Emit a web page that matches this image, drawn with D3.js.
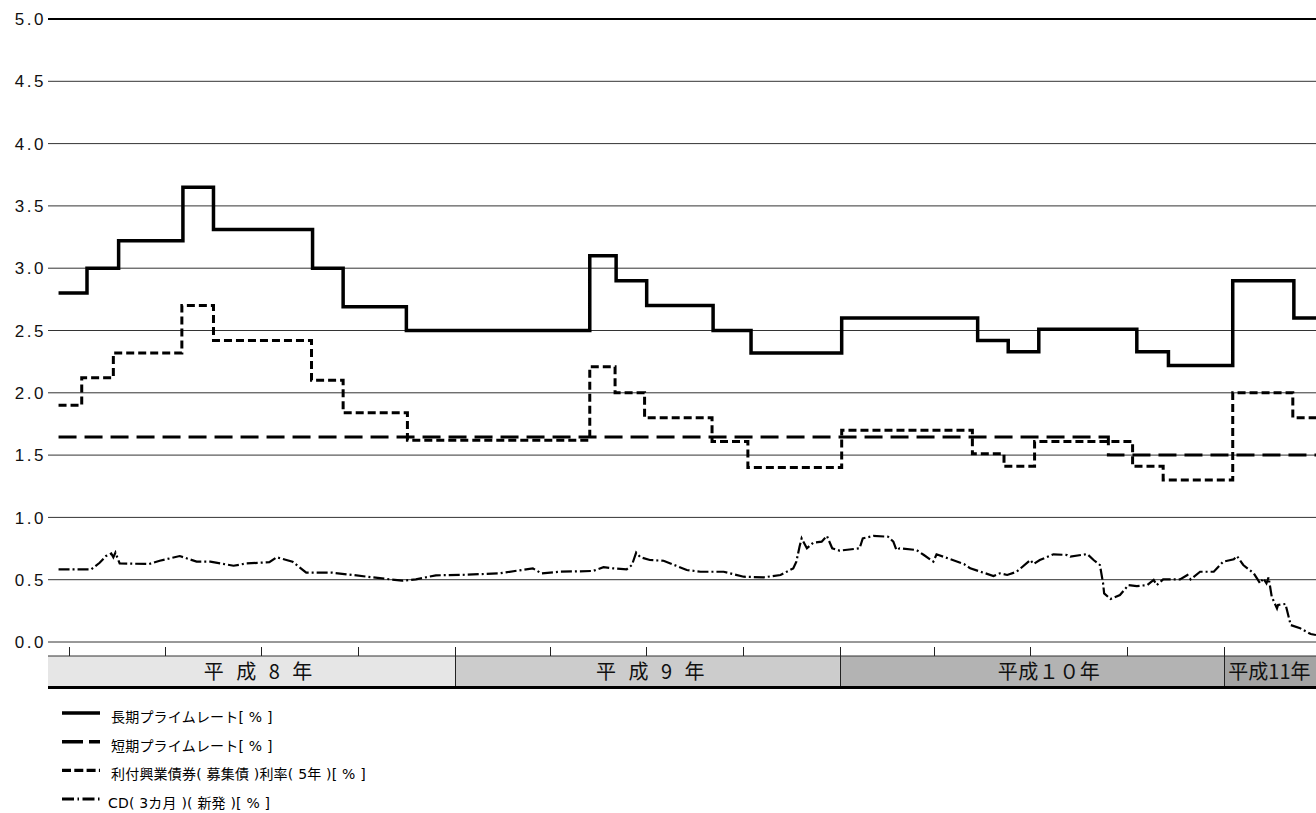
<!DOCTYPE html>
<html>
<head>
<meta charset="utf-8">
<script src="https://cdn.jsdelivr.net/npm/d3@7"></script>
<style>
    body { margin: 0; background: #fff; }
    svg { display: block; }
    .num { font-family: "Liberation Sans", Arial, sans-serif; }
    .jp { font-family: "Noto Sans CJK JP", sans-serif; }
    .legend-text { font-family: "DejaVu Sans", "Noto Sans CJK JP", sans-serif; }
</style>
</head>
<body>
<div id="chart"></div>
<script>
const parse = d3.timeParse('%Y-%m-%d');

// 長期プライムレート
const ltprDates = ['1995-12-22', '1996-01-18', '1996-02-17', '1996-04-18', '1996-05-17', '1996-08-19', '1996-09-17', '1996-11-16',
    '1997-05-09', '1997-06-03', '1997-07-02', '1997-09-03', '1997-10-09',
    '1998-01-03', '1998-05-12', '1998-06-10', '1998-07-09', '1998-10-10', '1998-11-09',
    '1999-01-09', '1999-03-08', '1999-03-29'];
const ltprValues = [2.8, 3.0, 3.22, 3.65, 3.31, 3.0, 2.69, 2.5,
    3.1, 2.9, 2.7, 2.5, 2.32,
    2.6, 2.42, 2.33, 2.51, 2.33, 2.22,
    2.9, 2.6, 2.6];

// 短期プライムレート
const stprDates = ['1995-12-22', '1998-09-13', '1999-03-29'];
const stprValues = [1.645, 1.5, 1.5];

// 利付興業債券(募集債)利率(5年)
const bondDates = ['1995-12-22', '1996-01-13', '1996-02-12', '1996-04-17', '1996-05-17', '1996-08-18', '1996-09-17', '1996-11-17',
    '1997-05-09', '1997-06-02', '1997-06-30', '1997-09-02', '1997-10-06',
    '1998-01-03', '1998-05-07', '1998-06-06', '1998-07-05', '1998-10-06', '1998-11-04',
    '1999-01-09', '1999-03-07', '1999-03-29'];
const bondValues = [1.9, 2.12, 2.32, 2.7, 2.42, 2.1, 1.84, 1.62,
    2.21, 2.0, 1.8, 1.61, 1.4,
    1.7, 1.51, 1.41, 1.61, 1.41, 1.3,
    2.0, 1.8, 1.8];

// CD(3カ月)(新発)
const cdDates = [
    '1995-12-22', '1996-01-22', '1996-01-30', '1996-02-05', '1996-02-10', '1996-02-12', '1996-02-14', '1996-02-18', '1996-03-17', '1996-03-27',
    '1996-04-15', '1996-05-01', '1996-05-14', '1996-06-05', '1996-06-17', '1996-07-09', '1996-07-16', '1996-07-31', '1996-08-13', '1996-09-07',
    '1996-09-26', '1996-10-15', '1996-11-12', '1996-11-25', '1996-12-14',
    '1997-01-06', '1997-02-12', '1997-03-16', '1997-03-24', '1997-04-11', '1997-05-12', '1997-05-22', '1997-05-31', '1997-06-13', '1997-06-18',
    '1997-06-22', '1997-06-26', '1997-07-05', '1997-07-18', '1997-08-09', '1997-08-22', '1997-09-13', '1997-10-02', '1997-10-21', '1997-11-06',
    '1997-11-18', '1997-11-21', '1997-11-24', '1997-11-26', '1997-12-01', '1997-12-07', '1997-12-15', '1997-12-20', '1997-12-25',
    '1998-01-01', '1998-01-20', '1998-01-23', '1998-02-02', '1998-02-16', '1998-02-21', '1998-02-24', '1998-02-27', '1998-03-15', '1998-03-22',
    '1998-03-31', '1998-04-03', '1998-04-29', '1998-05-05', '1998-05-27', '1998-06-02', '1998-06-09', '1998-06-18', '1998-07-01', '1998-07-04',
    '1998-07-10', '1998-07-23', '1998-08-05', '1998-08-08', '1998-08-24', '1998-08-30', '1998-09-05', '1998-09-08', '1998-09-09', '1998-09-15',
    '1998-09-24', '1998-10-02', '1998-10-10', '1998-10-20', '1998-10-26', '1998-10-29', '1998-11-04', '1998-11-20', '1998-11-27', '1998-11-30',
    '1998-12-09', '1998-12-22', '1998-12-31',
    '1999-01-10', '1999-01-13', '1999-01-19', '1999-01-29', '1999-02-04', '1999-02-07', '1999-02-10', '1999-02-12', '1999-02-15', '1999-02-20',
    '1999-02-21', '1999-02-28', '1999-03-05', '1999-03-14', '1999-03-24', '1999-03-29'];
const cdValues = [
    0.583, 0.583, 0.636, 0.69, 0.71, 0.68, 0.717, 0.63, 0.626, 0.652,
    0.69, 0.645, 0.645, 0.612, 0.63, 0.64, 0.68, 0.645, 0.556, 0.556,
    0.538, 0.519, 0.492, 0.503, 0.535,
    0.538, 0.551, 0.591, 0.551, 0.564, 0.57, 0.60, 0.591, 0.583, 0.618,
    0.717, 0.68, 0.658, 0.652, 0.578, 0.564, 0.564, 0.524, 0.519, 0.538,
    0.591, 0.645, 0.765, 0.832, 0.752, 0.797, 0.805, 0.851, 0.752,
    0.733, 0.752, 0.832, 0.851, 0.845, 0.805, 0.738, 0.752, 0.738, 0.698,
    0.645, 0.704, 0.626, 0.591, 0.53, 0.551, 0.538, 0.564, 0.658, 0.626,
    0.658, 0.704, 0.698, 0.685, 0.706, 0.658, 0.618, 0.471, 0.39, 0.345,
    0.377, 0.457, 0.449, 0.457, 0.498, 0.457, 0.503, 0.503, 0.538, 0.503,
    0.564, 0.564, 0.645,
    0.664, 0.69, 0.618, 0.551, 0.471, 0.511, 0.471, 0.519, 0.364, 0.27,
    0.297, 0.305, 0.136, 0.11, 0.064, 0.056];

const yTicks = [0, 0.5, 1.0, 1.5, 2.0, 2.5, 3.0, 3.5, 4.0, 4.5, 5.0];

const yearStarts = ['1995-12-12', '1997-01-01', '1998-01-01', '1999-01-01'];
const yearLabels = ['平 成 8 年', '平 成 9 年', '平成１０年', '平成11年'];

const legendLabels = [
    '長期プライムレート[ % ]',
    '短期プライムレート[ % ]',
    '利付興業債券( 募集債 )利率( 5年 )[ % ]',
    'CD( 3カ月 )( 新発 )[ % ]',
];

// ---- layout / style ----
const width = 1316, height = 813;
const plot = { left: 48, right: 1316, top: 19, bottom: 642 };
const band = { tickTop: 647, top: 656, bottom: 687 };
const bandColors = ['#e6e6e6', '#cccccc', '#b3b3b3', '#a3a3a3'];
const labelShift = [-2, 5, 17];
const labelSpacing = [4, 4, 0.5, 0];

const styles = [
    { width: 3.5, dash: null, legendWidth: 3.5, legendDash: null },
    { width: 3, dash: '18,8', legendWidth: 3.5, legendDash: '21,6' },
    { width: 3, dash: '8,4', legendWidth: 3.2, legendDash: '9,3.3' },
    { width: 2.2, dash: '11,3,2,3', legendWidth: 3, legendDash: '12,3.5,1.5,3.5' },
];

const x = d3.scaleTime()
    .domain([parse('1995-12-12'), parse('1999-03-29')])
    .range([plot.left, plot.right]);

const y = d3.scaleLinear()
    .domain([0, 5])
    .range([plot.bottom, plot.top]);

const svg = d3.select('#chart').append('svg')
    .attr('width', width)
    .attr('height', height);

// gridlines
svg.append('g')
    .selectAll('line')
    .data(yTicks)
    .enter()
        .append('line')
        .attr('x1', plot.left)
        .attr('x2', plot.right)
        .attr('y1', d => y(d))
        .attr('y2', d => y(d))
        .attr('stroke', d => d === 5 ? '#000' : '#333')
        .attr('stroke-width', d => d === 5 ? 2 : 1);

svg.append('g')
    .selectAll('text')
    .data(yTicks)
    .enter()
        .append('text')
        .attr('class', 'num')
        .attr('x', plot.left - 2)
        .attr('y', d => y(d))
        .attr('dy', '0.36em')
        .attr('text-anchor', 'end')
        .attr('font-size', 17)
        .attr('letter-spacing', 2.5)
        .attr('fill', '#111')
        .text(d3.format('.1f'));

// year band under the plot
const starts = yearStarts.map(parse);
const ends = starts.slice(1).concat([x.domain()[1]]);

const bandG = svg.append('g');
bandG.selectAll('rect')
    .data(starts)
    .enter()
        .append('rect')
        .attr('x', d => x(d))
        .attr('y', band.top)
        .attr('width', (d, i) => x(ends[i]) - x(d))
        .attr('height', band.bottom - band.top)
        .attr('fill', (d, i) => bandColors[i]);

bandG.append('line')
    .attr('x1', plot.left).attr('x2', plot.right)
    .attr('y1', band.top).attr('y2', band.top)
    .attr('stroke', '#333');

bandG.selectAll('.qtick')
    .data(x.ticks(d3.timeMonth.every(3)))
    .enter()
        .append('line')
        .classed('qtick', true)
        .attr('x1', d => Math.round(x(d)) + 0.5)
        .attr('x2', d => Math.round(x(d)) + 0.5)
        .attr('y1', band.tickTop)
        .attr('y2', band.top)
        .attr('stroke', '#222');

bandG.selectAll('.ysep')
    .data(starts.slice(1))
    .enter()
        .append('line')
        .classed('ysep', true)
        .attr('x1', d => Math.round(x(d)) + 0.5)
        .attr('x2', d => Math.round(x(d)) + 0.5)
        .attr('y1', band.tickTop)
        .attr('y2', band.bottom)
        .attr('stroke', '#222');

bandG.append('line')
    .attr('x1', plot.left).attr('x2', plot.right)
    .attr('y1', band.bottom + 0.5).attr('y2', band.bottom + 0.5)
    .attr('stroke', '#000')
    .attr('stroke-width', 3);

bandG.selectAll('text')
    .data(yearLabels)
    .enter()
        .append('text')
        .attr('class', 'jp')
        .attr('x', (d, i) => {
            const jan = d3.timeYear.ceil(starts[i]);
            if (i === yearLabels.length - 1)
                return x(jan) + 4;
            return (x(jan) + x(d3.timeYear.offset(jan, 1))) / 2 + labelShift[i];
        })
        .attr('y', (band.top + band.bottom) / 2)
        .attr('dy', '0.36em')
        .attr('text-anchor', (d, i) => i === yearLabels.length - 1 ? 'start' : 'middle')
        .attr('font-size', 20)
        .attr('letter-spacing', (d, i) => labelSpacing[i])
        .attr('fill', '#111')
        .text(d => d);

// series
const series = [
    { dates: ltprDates, values: ltprValues, curve: d3.curveStepAfter },
    { dates: stprDates, values: stprValues, curve: d3.curveStepAfter },
    { dates: bondDates, values: bondValues, curve: d3.curveStepAfter },
    { dates: cdDates, values: cdValues, curve: d3.curveLinear },
];

series.slice().reverse().forEach((s, k) => {
    const st = styles[series.length - 1 - k];
    const points = s.dates.map((d, i) => [parse(d), s.values[i]]);
    const line = d3.line()
        .x(p => x(p[0]))
        .y(p => y(p[1]))
        .curve(s.curve);

    svg.append('path')
        .datum(points)
        .attr('d', line)
        .attr('fill', 'none')
        .attr('stroke', '#000')
        .attr('stroke-width', st.width)
        .attr('stroke-dasharray', st.dash)
        .attr('stroke-linejoin', 'miter');
});

// legend
const legend = svg.append('g')
    .attr('transform', 'translate(62, 713)');

const rows = legend.selectAll('g')
    .data(legendLabels)
    .enter()
        .append('g')
        .attr('transform', (d, i) => `translate(0, ${i * 28.7})`);

rows.append('line')
    .attr('x1', 0)
    .attr('x2', 38)
    .attr('stroke', '#000')
    .attr('stroke-width', (d, i) => styles[i].legendWidth)
    .attr('stroke-dasharray', (d, i) => styles[i].legendDash);

rows.append('text')
    .attr('class', 'legend-text')
    .attr('x', (d, i) => i === 3 ? 46 : 49)
    .attr('y', 4)
    .attr('dy', '0.36em')
    .attr('font-size', 14)
    .attr('letter-spacing', 0.2)
    .attr('fill', '#000')
    .text(d => d);
</script>
</body>
</html>
